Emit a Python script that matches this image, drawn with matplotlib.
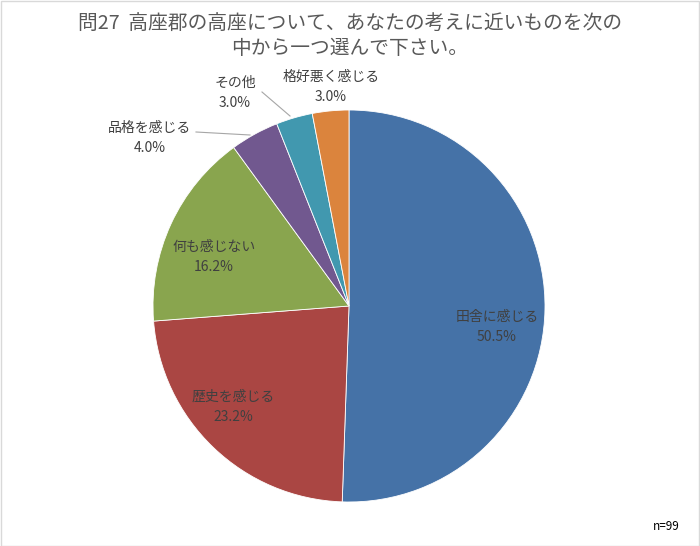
import matplotlib
matplotlib.use("Agg")
import matplotlib.pyplot as plt
from matplotlib.patches import Rectangle

plt.rcParams['font.family'] = ['Noto Sans CJK JP', 'DejaVu Sans']

categories = ["田舎に感じる", "歴史を感じる", "何も感じない", "品格を感じる", "その他", "格好悪く感じる"]
values = [50.5, 23.2, 16.2, 4.0, 3.0, 3.0]
colors = ["#4572A7", "#AA4643", "#89A54E", "#71588F", "#4198AF", "#DB843D"]
title = "問27  高座郡の高座について、あなたの考えに近いものを次の\n中から一つ選んで下さい。"

W, H = 700, 546
fig = plt.figure(figsize=(W / 100, H / 100), dpi=100)

# pie axes: center (349,306) px, radius 196 px
cx, cy, r = 349, 306, 196
ax = fig.add_axes([(cx - r) / W, (H - cy - r) / H, 2 * r / W, 2 * r / H])
ax.axis("off")

ax.pie(values, colors=colors, startangle=90, counterclock=False, radius=1.0,
       wedgeprops=dict(edgecolor="white", linewidth=0.6))
ax.set_aspect("auto")
ax.set_xlim(-1, 1)
ax.set_ylim(-1, 1)

def px2d(px, py):
    return (px - cx) / r, (cy - py) / r

# label positions (pixel centers of two-line label)
label_pos = [(497, 327), (233, 407), (214, 257), (150, 138), (235, 93), (331, 87)]
for cat, v, (px, py) in zip(categories, values, label_pos):
    x, y = px2d(px, py)
    ax.text(x, y, f"{cat}\n{v:.1f}%", ha="center", va="center", fontsize=10,
            color="#404040", linespacing=1.55, clip_on=False)

# leader lines
for (p1, p2) in [((196, 132), (250, 135)), ((262, 92), (290, 116))]:
    x1, y1 = px2d(*p1)
    x2, y2 = px2d(*p2)
    ax.plot([x1, x2], [y1, y2], color="#A6A6A6", linewidth=0.8, clip_on=False)

fig.text(0.5, 1 - 36 / H, title, ha="center", va="center", fontsize=14.2,
         color="#595959", linespacing=1.2)
fig.text(680 / W, 1 - 527 / H, "n=99", ha="right", va="center", fontsize=8.5,
         color="#000000")

fig.patches.append(Rectangle((0.5 / W, 0.5 / H), 1 - 1.5 / W, 1 - 1.5 / H,
                             transform=fig.transFigure, fill=False,
                             edgecolor="#D9D9D9", linewidth=1))

fig.savefig("out.png", dpi=100)
